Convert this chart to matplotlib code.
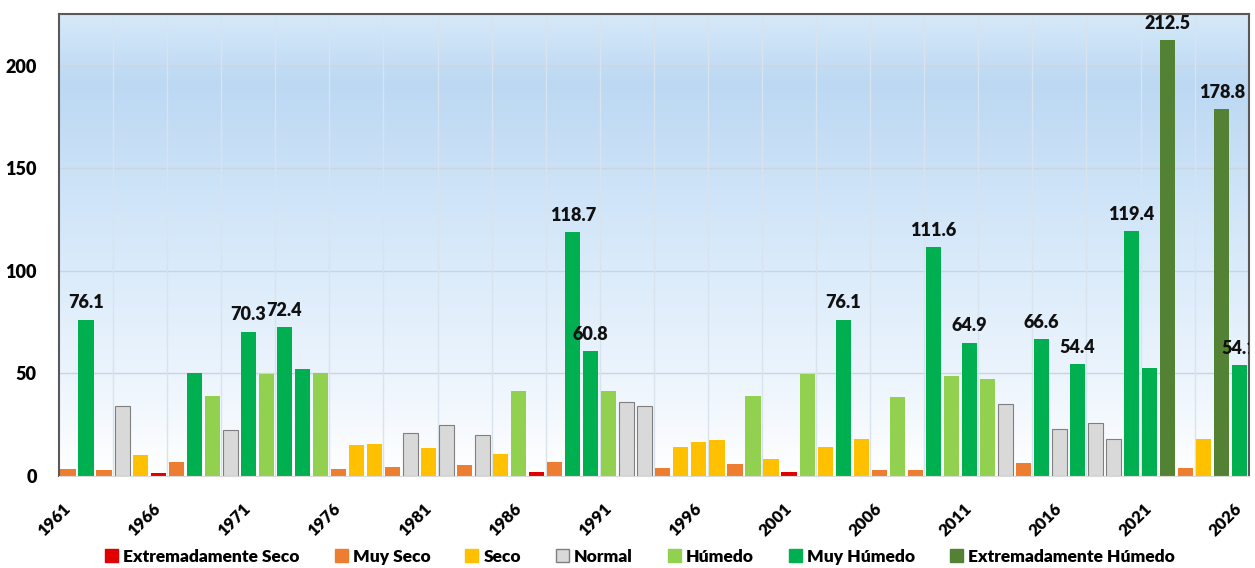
import numpy as np
import matplotlib
matplotlib.use('Agg')
import matplotlib.pyplot as plt
from matplotlib.colors import LinearSegmentedColormap
from matplotlib.patches import Patch

plt.rcParams['font.family'] = ['Lato', 'DejaVu Sans']
plt.rcParams['font.weight'] = 'heavy'

# Años y valores
anios = list(range(1961, 2027))
valores = [3.2, 76.1, 2.7, 34.0, 10.0, 1.6, 7.0, 50.2, 39.2, 22.3,
           70.3, 49.5, 72.4, 52.1, 50.2, 3.2, 14.9, 15.7, 4.5, 21.0,
           13.6, 24.8, 5.2, 19.9, 10.5, 41.6, 1.9, 6.9, 118.7, 60.8,
           41.5, 35.9, 34.0, 4.0, 14.2, 16.7, 17.5, 6.0, 39.2, 8.1,
           2.1, 49.7, 14.2, 76.1, 18.1, 2.8, 38.5, 2.8, 111.6, 48.9,
           64.9, 47.2, 35.3, 6.5, 66.6, 22.7, 54.4, 25.8, 17.9, 119.4,
           52.6, 212.5, 3.7, 17.9, 178.8, 54.1]
# ES=Extremadamente Seco, MS=Muy Seco, S=Seco, N=Normal, H=Húmedo, MH=Muy Húmedo, EH=Extremadamente Húmedo
clases = ['MS', 'MH', 'MS', 'N', 'S', 'ES', 'MS', 'MH', 'H', 'N',
          'MH', 'H', 'MH', 'MH', 'H', 'MS', 'S', 'S', 'MS', 'N',
          'S', 'N', 'MS', 'N', 'S', 'H', 'ES', 'MS', 'MH', 'MH',
          'H', 'N', 'N', 'MS', 'S', 'S', 'S', 'MS', 'H', 'S',
          'ES', 'H', 'S', 'MH', 'S', 'MS', 'H', 'MS', 'MH', 'H',
          'MH', 'H', 'N', 'MS', 'MH', 'N', 'MH', 'N', 'N', 'MH',
          'MH', 'EH', 'MS', 'S', 'EH', 'MH']

codigos = ['ES', 'MS', 'S', 'N', 'H', 'MH', 'EH']
nombres = ['Extremadamente Seco', 'Muy Seco', 'Seco', 'Normal',
           'Húmedo', 'Muy Húmedo', 'Extremadamente Húmedo']
colores = ['#E00000', '#ED7D31', '#FFC000', '#D9D9D9',
           '#92D050', '#00B050', '#548235']

fig = plt.figure(figsize=(12.55, 5.68), dpi=100)
ax = fig.add_axes([0.047, 0.162, 0.948, 0.813])

x = np.arange(len(anios))
ax.set_xlim(-0.5, len(anios) - 0.5)
ax.set_ylim(0, 225)

# Fondo con degradado azul
grad = LinearSegmentedColormap.from_list('fondo', [
    (0.0, '#ffffff'), (0.2, '#edf5fd'), (0.55, '#d3e7f9'),
    (0.85, '#bcd8f3'), (1.0, '#d6e9f9')])
ax.imshow(np.linspace(0, 1, 256).reshape(-1, 1), cmap=grad, origin='lower',
          extent=[0, 1, 0, 1], transform=ax.transAxes, aspect='auto', zorder=0)

# Líneas de cuadrícula
for yv in [50, 100, 150, 200]:
    ax.axhline(yv, color='#c9d5e1', lw=1, zorder=0.5)
for xv in np.arange(2.5, len(anios) - 1, 3):
    ax.axvline(xv, color='#d8e3ee', lw=1, zorder=0.5)

for cod, nom, col in zip(codigos, nombres, colores):
    idx = [i for i, c in enumerate(clases) if c == cod]
    if not idx:
        continue
    edge = '#7f7f7f' if cod == 'N' else col
    ax.bar(x[idx], [valores[i] for i in idx], width=0.84, color=col,
           edgecolor=edge, linewidth=0.8 if cod == 'N' else 0, zorder=2)

# Etiquetas de valores altos (recortadas por el área del gráfico, como en el original)
for i, v in enumerate(valores):
    if v > 53:
        ax.annotate(f'{v:.1f}', (x[i], v), xytext=(0, 6), textcoords='offset points',
                    ha='center', va='bottom', fontsize=13, fontweight='heavy',
                    color='#111111', clip_on=True, zorder=3)

ax.set_yticks([0, 50, 100, 150, 200])
ax.set_xticks(x[::5])
ax.set_xticklabels([str(a) for a in anios[::5]], rotation=45, ha='right',
                   va='center', rotation_mode='anchor')
ax.tick_params(axis='both', length=0, labelsize=13)
ax.tick_params(axis='x', pad=22, labelsize=12)
ax.tick_params(axis='y', pad=16)
for lbl in ax.get_xticklabels() + ax.get_yticklabels():
    lbl.set_fontweight('heavy')

for s in ['left', 'top', 'right']:
    ax.spines[s].set_color('#595959')
    ax.spines[s].set_linewidth(1.5)
ax.spines['bottom'].set_color('#d9d9d9')

handles = [Patch(facecolor=c, edgecolor='#7f7f7f' if n == 'Normal' else c, label=n)
           for n, c in zip(nombres, colores)]
fig.legend(handles=handles, loc='lower center', bbox_to_anchor=(0.51, -0.022),
           ncol=7, frameon=False, handlelength=0.75,
           handleheight=0.75, handletextpad=0.3, columnspacing=2.0,
           prop={'weight': 'heavy', 'size': 12.5})

fig.savefig('out.png', dpi=100)
